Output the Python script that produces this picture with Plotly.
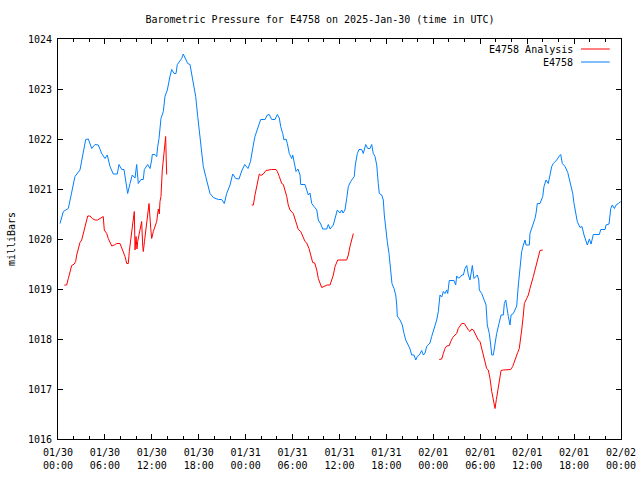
import pandas as pd
import plotly.graph_objects as go

# Hours after 2025-01-30 00:00 UTC
obs_hours = [0.26, 0.68, 1.32, 1.75, 2.17, 2.81, 3.24, 3.54, 3.88, 4.31, 4.73, 5.15, 5.59, 6.01, 6.3, 6.65, 7.07, 7.58, 7.8, 8.15,
             8.44, 8.66, 8.91, 9.21, 9.5, 9.85, 10.06, 10.27, 10.61, 10.91, 11.04, 11.47, 11.77, 11.98, 12.06, 12.4, 12.62, 12.75, 12.92, 13.17,
             13.47, 13.68, 13.98, 14.32, 14.54, 14.84, 15.09, 15.26, 15.6, 15.82, 16.02, 16.33, 16.59, 16.88, 17.1, 17.3, 17.61, 17.87, 18.16, 18.38,
             18.58, 18.89, 19.14, 19.44, 19.86, 20.5, 20.94, 21.27, 21.57, 22.0, 22.34, 22.73, 23.15, 23.49, 23.88, 24.3, 24.62, 24.77, 24.98, 25.19,
             25.49, 25.74, 25.92, 26.47, 26.77, 27.02, 27.33, 27.75, 28.05, 28.3, 28.48, 28.74, 28.9, 29.16, 29.33, 29.58, 29.89, 30.02, 30.22, 30.44,
             30.69, 30.95, 31.04, 31.59, 31.81, 32.01, 32.23, 32.45, 32.74, 33.09, 33.29, 33.6, 33.85, 34.36, 34.57, 34.79, 35.21, 35.55, 35.72, 36.06,
             36.28, 36.45, 36.7, 36.92, 37.13, 37.43, 37.69, 37.89, 38.02, 38.28, 38.49, 38.84, 39.04, 39.35, 39.61, 39.9, 40.12, 40.32, 40.54, 40.76,
             40.96, 41.09, 41.4, 41.6, 41.73, 41.91, 42.11, 42.33, 42.55, 42.71, 42.97, 43.19, 43.32, 43.39, 43.74, 44.03, 44.25, 44.47, 44.72, 45.02,
             45.23, 45.53, 45.75, 45.95, 46.21, 46.51, 46.72, 46.94, 47.15, 47.36, 47.57, 47.79, 48.0, 48.21, 48.43, 48.64, 48.76, 48.85, 49.07, 49.28,
             49.49, 49.71, 49.84, 50.04, 50.64, 50.86, 50.99, 51.19, 51.41, 51.63, 51.84, 52.05, 52.27, 52.48, 52.69, 52.82, 52.99, 53.2, 53.42, 53.63,
             53.81, 53.88, 54.19, 54.39, 54.74, 54.9, 55.16, 55.34, 55.47, 55.67, 55.89, 56.1, 56.4, 56.66, 56.95, 57.08, 57.26, 57.39, 57.59, 57.81,
             57.94, 58.23, 58.45, 58.66, 58.87, 59.09, 59.3, 59.51, 59.73, 59.85, 60.28, 60.36, 60.58, 60.79, 61.0, 61.13, 61.3, 61.64, 61.99, 62.15,
             62.41, 62.7, 62.92, 63.14, 63.34, 63.78, 64.11, 64.29, 64.5, 64.84, 65.19, 65.48, 65.83, 65.99, 66.21, 66.41, 66.76, 67.01, 67.27, 67.53,
             67.69, 67.95, 68.17, 68.46, 69.23, 69.41, 69.96, 70.09, 70.47, 70.69, 70.89, 71.15, 71.37, 71.66, 71.97]
obs_mb = [1020.31, 1020.55, 1020.61, 1020.91, 1021.25, 1021.38, 1021.75, 1021.99, 1022.0, 1021.81, 1021.89, 1021.88, 1021.71, 1021.61, 1021.68, 1021.45, 1021.3, 1021.3, 1021.49, 1021.39,
          1021.39, 1021.11, 1020.91, 1021.11, 1021.28, 1021.22, 1021.49, 1021.11, 1021.19, 1021.19, 1021.39, 1021.49, 1021.41, 1021.58, 1021.69, 1021.69, 1021.65, 1021.85, 1022.01, 1022.41,
          1022.55, 1022.85, 1022.98, 1023.25, 1023.39, 1023.31, 1023.31, 1023.49, 1023.55, 1023.61, 1023.7, 1023.59, 1023.51, 1023.49, 1023.31, 1023.11, 1022.85, 1022.45, 1022.05, 1021.71,
          1021.45, 1021.25, 1021.08, 1020.91, 1020.83, 1020.79, 1020.79, 1020.71, 1020.91, 1021.08, 1021.3, 1021.21, 1021.2, 1021.36, 1021.49, 1021.41, 1021.55, 1021.71, 1021.88, 1022.05,
          1022.2, 1022.31, 1022.39, 1022.39, 1022.48, 1022.49, 1022.39, 1022.39, 1022.49, 1022.42, 1022.25, 1022.11, 1021.98, 1022.0, 1021.91, 1021.71, 1021.61, 1021.68, 1021.55, 1021.35,
          1021.4, 1021.28, 1021.09, 1021.09, 1020.98, 1020.88, 1020.92, 1020.71, 1020.65, 1020.58, 1020.38, 1020.3, 1020.2, 1020.2, 1020.29, 1020.2, 1020.28, 1020.45, 1020.58, 1020.52,
          1020.58, 1020.52, 1020.58, 1020.81, 1021.05, 1021.15, 1021.2, 1021.25, 1021.48, 1021.71, 1021.79, 1021.79, 1021.71, 1021.89, 1021.81, 1021.81, 1021.89, 1021.71, 1021.65, 1021.48,
          1021.11, 1020.91, 1020.88, 1020.78, 1020.48, 1020.15, 1019.95, 1019.71, 1019.31, 1019.11, 1019.01, 1018.88, 1018.68, 1018.46, 1018.38, 1018.28, 1018.11, 1017.98, 1017.9, 1017.8,
          1017.68, 1017.68, 1017.58, 1017.65, 1017.68, 1017.77, 1017.68, 1017.72, 1017.85, 1017.88, 1017.92, 1018.05, 1018.15, 1018.25, 1018.38, 1018.55, 1018.71, 1018.88, 1018.84, 1018.95,
          1018.91, 1018.98, 1018.91, 1019.17, 1019.17, 1019.08, 1019.26, 1019.22, 1019.23, 1019.28, 1019.28, 1019.41, 1019.47, 1019.28, 1019.18, 1019.28, 1019.47, 1019.21, 1019.24, 1019.28,
          1019.18, 1018.98, 1018.91, 1018.81, 1018.68, 1018.28, 1018.11, 1017.88, 1017.68, 1017.68, 1017.91, 1018.11, 1018.31, 1018.48, 1018.48, 1018.71, 1018.78, 1018.61, 1018.45, 1018.28,
          1018.48, 1018.51, 1018.58, 1018.66, 1019.08, 1019.45, 1019.75, 1019.88, 1019.98, 1019.88, 1019.88, 1020.11, 1020.21, 1020.35, 1020.41, 1020.51, 1020.71, 1020.71, 1020.85, 1021.05,
          1021.18, 1021.11, 1021.25, 1021.45, 1021.51, 1021.58, 1021.66, 1021.69, 1021.51, 1021.45, 1021.33, 1021.11, 1020.91, 1020.71, 1020.51, 1020.35, 1020.23, 1020.25, 1020.08, 1019.98,
          1019.88, 1020.0, 1019.9, 1020.09, 1020.09, 1020.19, 1020.19, 1020.28, 1020.3, 1020.61, 1020.68, 1020.61, 1020.68, 1020.71, 1020.75]

# Analysis series (None marks a gap between segments)
ana_hours = [0.81, 1.11, 1.32, 1.53, 1.75, 2.08, 2.26, 2.39, 2.6, 2.81, 3.03, 3.24, 3.45, 3.67, 3.8, 4.09, 4.39, 4.73, 5.05, 5.37,
             5.79, 5.92, 6.23, 6.43, 6.65, 6.87, 7.2, 7.51, 7.93, 8.15, 8.35, 8.57, 8.79, 8.99, 9.12, 9.34, 9.55, 9.76, 9.85, 9.98,
             10.1, 10.19, 10.36, 10.58, 10.7, 10.83, 10.91, 11.06, 11.22, 11.42, 11.64, 11.86, 11.98, 12.19, 12.41, 12.62, 12.83, 12.96, 13.04, 13.17,
             13.34, 13.59, 13.77, 13.84, 13.9,
             18.0,
             24.77, 24.98, 25.19, 25.41, 25.62, 25.74, 25.96, 26.25, 26.6, 26.9, 27.33, 27.88, 28.05, 28.3, 28.61, 28.82, 29.03, 29.25, 29.45, 29.67,
             30.09, 30.4, 30.73, 31.04, 31.29, 31.59, 31.81, 32.1, 32.32, 32.57, 32.83, 33.09, 33.29, 33.51, 33.72, 34.15, 34.44, 34.79, 35.0, 35.21,
             35.43, 35.64, 35.77, 36.92, 37.13, 37.34, 37.56, 37.77,
             43.0,
             48.76, 49.07, 49.28, 49.49, 49.71, 50.04, 50.22, 50.48, 50.77, 50.99, 51.19, 51.41, 51.63, 51.96, 52.18, 52.48, 52.69, 52.91, 53.12, 53.33,
             53.55, 53.75, 53.97, 54.19, 54.39, 54.61, 54.82, 55.03, 55.25, 55.47, 55.67, 55.89, 56.06, 56.23, 56.44, 56.66, 56.95, 57.39, 57.9, 58.15,
             58.35, 58.57, 58.79, 58.99, 59.17, 59.3, 59.51, 59.64, 59.94, 60.15, 60.36, 60.58, 60.79, 61.0, 61.21, 61.43, 61.64, 61.99]
ana_mb = [1019.08, 1019.08, 1019.21, 1019.35, 1019.47, 1019.5, 1019.55, 1019.68, 1019.81, 1019.93, 1019.98, 1020.11, 1020.28, 1020.41, 1020.46, 1020.46, 1020.41, 1020.38, 1020.38, 1020.41,
          1020.45, 1020.18, 1020.11, 1020.01, 1019.93, 1019.86, 1019.88, 1019.91, 1019.91, 1019.83, 1019.75, 1019.65, 1019.51, 1019.51, 1019.75, 1020.08, 1020.3, 1020.55, 1019.78, 1020.05,
          1019.8, 1019.95, 1020.1, 1020.31, 1020.35, 1019.88, 1019.75, 1019.95, 1020.15, 1020.45, 1020.71, 1020.21, 1020.01, 1020.15, 1020.25, 1020.35, 1020.6, 1020.5, 1020.75, 1020.85,
          1021.38, 1021.88, 1022.05, 1021.6, 1021.29,
          None,
          1020.68, 1020.68, 1020.88, 1021.05, 1021.21, 1021.3, 1021.27, 1021.3, 1021.37, 1021.38, 1021.39, 1021.39, 1021.35, 1021.25, 1021.11, 1021.09, 1020.98, 1020.85, 1020.68, 1020.58,
          1020.51, 1020.35, 1020.19, 1020.15, 1020.05, 1019.95, 1019.92, 1019.81, 1019.68, 1019.53, 1019.52, 1019.38, 1019.21, 1019.11, 1019.03, 1019.06, 1019.08, 1019.08, 1019.18, 1019.28,
          1019.45, 1019.55, 1019.58, 1019.58, 1019.68, 1019.85, 1019.98, 1020.11,
          None,
          1017.59, 1017.6, 1017.71, 1017.81, 1017.86, 1017.87, 1017.95, 1018.03, 1018.08, 1018.11, 1018.21, 1018.26, 1018.31, 1018.31, 1018.25, 1018.18, 1018.15, 1018.2, 1018.18, 1018.11,
          1018.05, 1017.98, 1017.95, 1017.81, 1017.65, 1017.51, 1017.41, 1017.38, 1017.21, 1016.95, 1016.79, 1016.61, 1016.79, 1016.95, 1017.18, 1017.37, 1017.38, 1017.39, 1017.39, 1017.45,
          1017.55, 1017.65, 1017.73, 1017.81, 1017.98, 1018.18, 1018.48, 1018.71, 1018.81, 1018.88, 1019.01, 1019.11, 1019.25, 1019.38, 1019.51, 1019.65, 1019.77, 1019.78]

series_names = ["E4758 Analysis", "E4758"]
series_colors = ["#ff0000", "#0080ff"]
title_text = "Barometric Pressure for E4758 on 2025-Jan-30 (time in UTC)"
y_label = "milliBars"
start = pd.Timestamp("2025-01-30 00:00")
end = pd.Timestamp("2025-02-02 00:00")

obs_t = start + pd.to_timedelta(obs_hours, unit="h")
ana_t = start + pd.to_timedelta(ana_hours, unit="h")

FONT = "DejaVu Sans Mono"

fig = go.Figure()
fig.add_trace(go.Scatter(x=ana_t, y=ana_mb, mode="lines", name=series_names[0],
                         line=dict(color=series_colors[0], width=1), connectgaps=False, hoverinfo="skip"))
fig.add_trace(go.Scatter(x=obs_t, y=obs_mb, mode="lines", name=series_names[1],
                         line=dict(color=series_colors[1], width=1), hoverinfo="skip"))

# gnuplot-style key: right-aligned text followed by a line sample
key_y = [0.975, 0.9425]
for name, color, ky in zip(series_names, series_colors, key_y):
    fig.add_annotation(xref="paper", yref="paper", x=0.919, y=ky, text=name, showarrow=False,
                       xanchor="right", yanchor="middle", font=dict(family=FONT, size=10, color="black"))
    fig.add_shape(type="line", xref="paper", yref="paper", x0=0.929, x1=0.980, y0=ky, y1=ky,
                  line=dict(color=color, width=1))

fig.update_layout(
    width=640, height=480, autosize=False,
    margin=dict(l=58, r=19, t=39, b=41, autoexpand=False),
    paper_bgcolor="white", plot_bgcolor="white",
    showlegend=False,
    font=dict(family=FONT, size=10, color="black"),
    title=dict(text=title_text, x=0.5, xanchor="center", y=1 - 19 / 480, yanchor="middle",
               font=dict(family=FONT, size=10, color="black"), automargin=False),
)
fig.update_xaxes(
    type="date", range=[start, end], automargin=False,
    tickformat="%m/%d<br>%H:%M", dtick=6 * 3600 * 1000, tick0=start,
    showline=True, linecolor="black", linewidth=1, mirror="ticks",
    ticks="inside", ticklen=5, tickcolor="black", showgrid=False, zeroline=False,
    minor=dict(dtick=2 * 3600 * 1000, ticks="inside", ticklen=3, tickcolor="black", showgrid=False),
    tickfont=dict(family=FONT, size=10), ticklabelstandoff=4,
)
fig.update_yaxes(
    range=[1016, 1024], dtick=1, tickformat="d", automargin=False,
    showline=True, linecolor="black", linewidth=1, mirror="ticks",
    ticks="inside", ticklen=5, tickcolor="black", showgrid=False, zeroline=False,
    tickfont=dict(family=FONT, size=10), ticklabelstandoff=3,
    title=dict(text=y_label, font=dict(family=FONT, size=10), standoff=10),
)

fig.write_html("out.html", config={"displayModeBar": False, "responsive": False},
               post_script="document.body.style.margin='0';")
